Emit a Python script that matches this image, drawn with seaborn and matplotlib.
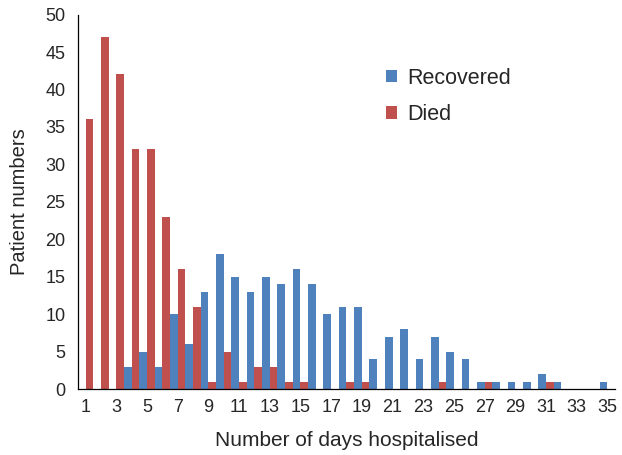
import pandas as pd
import matplotlib
matplotlib.use("Agg")
import matplotlib.pyplot as plt
import seaborn as sns

# ─── Data ────────────────────────────────────────────────────────────────────
days = list(range(1, 36))
recovered = [0, 0, 0, 3, 5, 3, 10, 6, 13, 18, 15, 13, 15, 14, 16, 14, 10, 11,
             11, 4, 7, 8, 4, 7, 5, 4, 1, 1, 1, 1, 2, 1, 0, 0, 1]
died = [36, 47, 42, 32, 32, 23, 16, 11, 1, 5, 1, 3, 3, 1, 1, 0, 0, 1,
        1, 0, 0, 0, 0, 1, 0, 0, 1, 0, 0, 0, 1, 0, 0, 0, 0]
series_names = ["Recovered", "Died"]
colors = ["#4F81BD", "#C0504D"]
y_ticks = list(range(0, 51, 5))

df = pd.DataFrame({
    "day": days * 2,
    "count": recovered + died,
    "outcome": [series_names[0]] * len(days) + [series_names[1]] * len(days),
})

sns.set_style("white")
plt.rcParams["font.family"] = ["Liberation Sans", "DejaVu Sans"]

fig = plt.figure(figsize=(6.22, 4.55), dpi=100)
ax = fig.add_axes([0.1254, 0.145, 0.8633, 0.823])

sns.barplot(data=df, x="day", y="count", hue="outcome", order=days,
            hue_order=series_names, palette=colors, width=1.0,
            linewidth=0, saturation=1, ax=ax)

ax.set_xlim(-0.5, len(days) - 0.5)
ax.set_ylim(0, 50)
ax.set_yticks(y_ticks)
ax.set_yticklabels([str(v) for v in y_ticks], fontsize=13)
ax.set_xticks(range(0, len(days), 2))
ax.set_xticklabels([str(d) for d in days[::2]], fontsize=13)
ax.tick_params(axis="y", direction="out", length=5, width=0.8, color="black", pad=4)
ax.tick_params(axis="x", length=0, pad=7)

for side in ["top", "right"]:
    ax.spines[side].set_visible(False)
for side in ["left", "bottom"]:
    ax.spines[side].set_color("black")
    ax.spines[side].set_linewidth(0.9)

ax.set_xlabel("Number of days hospitalised", fontsize=15, labelpad=11)
ax.set_ylabel("Patient numbers", fontsize=14.5, labelpad=12)

ax.legend(loc="upper left", bbox_to_anchor=(386 / 622, 1 - 68 / 455),
          bbox_transform=fig.transFigure, frameon=False, borderpad=0,
          borderaxespad=0, fontsize=15.5, handlelength=0.5, handleheight=0.5,
          handletextpad=0.5, labelspacing=0.7)

fig.savefig("out.png", dpi=100, facecolor="white")
